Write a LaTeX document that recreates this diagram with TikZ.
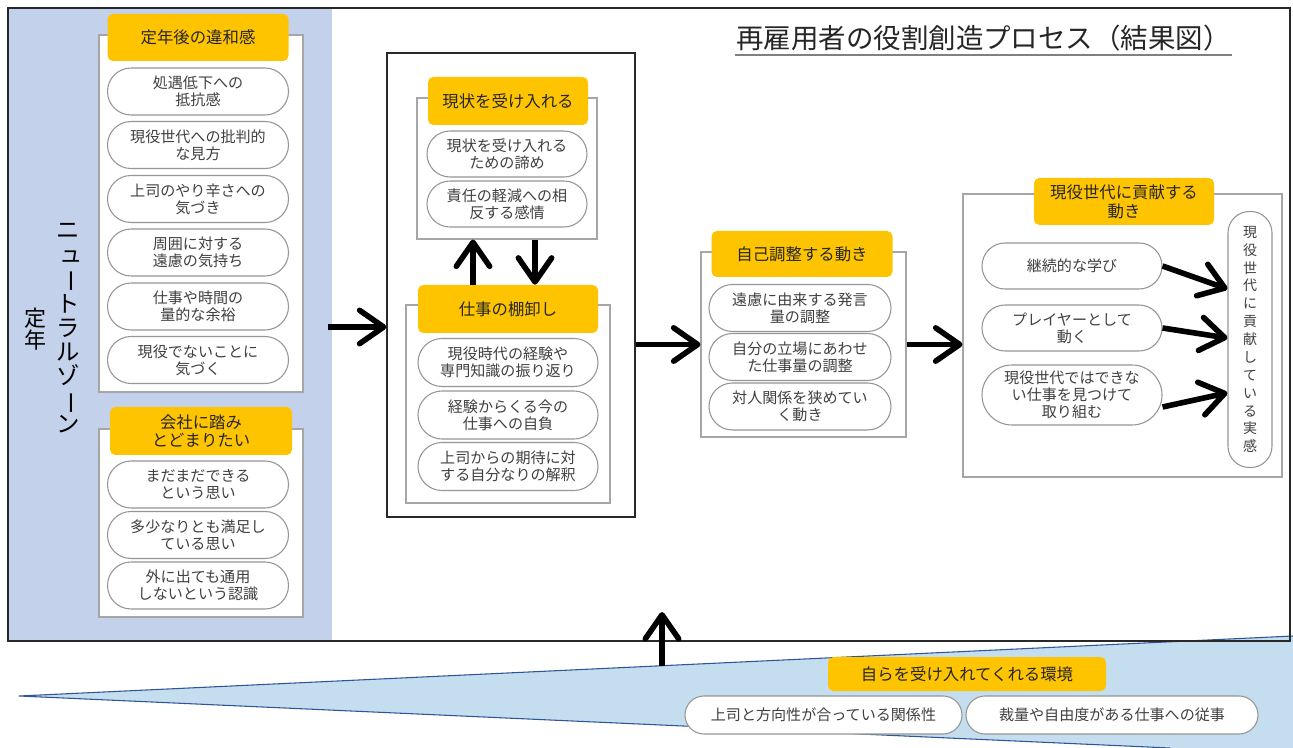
\documentclass[tikz,border=0pt]{standalone}
\usepackage{fontspec}
\usepackage{graphicx}
\setmainfont{Noto Sans CJK JP}
\usetikzlibrary{arrows.meta,shapes.misc,calc}
\definecolor{panelblue}{RGB}{196,209,234}
\definecolor{wedgefill}{RGB}{196,221,239}
\definecolor{wedgeline}{RGB}{47,85,151}
\definecolor{hdryellow}{RGB}{255,196,0}
\definecolor{boxgray}{RGB}{166,166,166}
\definecolor{ovalgray}{RGB}{150,150,150}
\definecolor{txtgray}{RGB}{64,64,64}
\definecolor{hdrtxt}{RGB}{38,38,38}
\definecolor{framecol}{RGB}{40,40,40}
\newcommand{\vbar}{\rotatebox[origin=c]{-90}{ー}}
\begin{document}
\begin{tikzpicture}[x=0.75pt,y=-0.75pt,
  grpbox/.style={draw=boxgray, fill=white, line width=0.8pt, rectangle, inner sep=0pt},
  hdr/.style={fill=hdryellow, rounded corners=4pt, align=center, text=hdrtxt, inner sep=0pt,
    font=\fontsize{12.3}{14}\selectfont},
  oval/.style={rounded rectangle, draw=ovalgray, fill=white, line width=0.8pt, align=center,
    text=txtgray, inner sep=0pt, font=\fontsize{11.3}{12.6}\selectfont},
  bigarrow/.style={line width=4.2pt, -{Straight Barb[round, length=18pt, width=25pt]}},
  sidetxt/.style={align=center, text=black, inner sep=0pt}
]
\useasboundingbox (0,0) rectangle (1293,748);
\fill[white] (0,0) rectangle (1293,748);
% environment wedge
\fill[wedgefill] (19,696) -- (1293,636) -- (1293,748) -- (1170,748) -- cycle;
\draw[wedgeline, line width=0.8pt] (1293,636) -- (19,696) -- (1170,748);
% left zone
\fill[panelblue] (8,8) rectangle (332,641);
\draw[framecol, line width=0.9pt] (8,8) rectangle (1290,641);

% title
\node[anchor=south, inner xsep=1pt, inner ysep=2.5pt, font=\fontsize{20.6}{22}\selectfont, text=hdrtxt] (title) at (983.5,55) {再雇用者の役割創造プロセス（結果図）};
\draw[gray, line width=1.1pt] (title.south west) -- (title.south east);

% side texts
\node[sidetxt, font=\fontsize{17.5}{18}\selectfont] (nz) at (68,328) {ニ\\\hspace*{0.3em}ュ\\\vbar\\ト\\ラ\\ル\\ゾ\\\vbar\\ン};
\node[sidetxt, font=\fontsize{16.5}{17}\selectfont] (tn) at (36,329) {定\\年};

% left group 1
\node[grpbox, minimum width=153pt, minimum height=267.75pt] (bL1) at (201,213.5) {};
\node[hdr, minimum width=135.75pt, minimum height=35.25pt] (hL1) at (198,37.5) {定年後の違和感};
\node[oval, minimum width=135.75pt, minimum height=35.25pt] (oL1a) at (198,91.5) {処遇低下への\\抵抗感};
\node[oval, minimum width=135.75pt, minimum height=35.25pt] (oL1b) at (198,145) {現役世代への批判的\\な見方};
\node[oval, minimum width=135.75pt, minimum height=35.25pt] (oL1c) at (198,199) {上司のやり辛さへの\\気づき};
\node[oval, minimum width=135.75pt, minimum height=35.25pt] (oL1d) at (198,252.5) {周囲に対する\\遠慮の気持ち};
\node[oval, minimum width=135.75pt, minimum height=35.25pt] (oL1e) at (198,306.5) {仕事や時間の\\量的な余裕};
\node[oval, minimum width=135.75pt, minimum height=35.25pt] (oL1f) at (198,360) {現役でないことに\\気づく};

% left group 2
\node[grpbox, minimum width=153pt, minimum height=141pt] (bL2) at (201,523) {};
\node[hdr, minimum width=136.5pt, minimum height=36pt] (hL2) at (201,431) {会社に踏み\\とどまりたい};
\node[oval, minimum width=135.75pt, minimum height=35.25pt] (oL2a) at (198,484.5) {まだまだできる\\という思い};
\node[oval, minimum width=135.75pt, minimum height=35.25pt] (oL2b) at (198,535) {多少なりとも満足し\\ている思い};
\node[oval, minimum width=135.75pt, minimum height=35.25pt] (oL2c) at (198,585.5) {外に出ても通用\\しないという認識};

% middle big box
\node[draw=framecol, fill=white, line width=0.9pt, rectangle, inner sep=0pt, minimum width=186pt, minimum height=348pt] (bM) at (511,285) {};
\node[grpbox, minimum width=135pt, minimum height=105.75pt] (bM1) at (507,168.5) {};
\node[hdr, minimum width=120pt, minimum height=36pt] (hM1) at (508,101) {現状を受け入れる};
\node[oval, minimum width=120pt, minimum height=34.5pt] (oM1a) at (507,154) {現状を受け入れる\\ための諦め};
\node[oval, minimum width=120pt, minimum height=34.5pt] (oM1b) at (507,204) {責任の軽減への相\\反する感情};
\node[grpbox, minimum width=153pt, minimum height=148.5pt] (bM2) at (508,404) {};
\node[hdr, minimum width=135pt, minimum height=36pt] (hM2) at (508,309) {仕事の棚卸し};
\node[oval, minimum width=135pt, minimum height=36pt] (oM2a) at (508,362.5) {現役時代の経験や\\専門知識の振り返り};
\node[oval, minimum width=135pt, minimum height=36pt] (oM2b) at (508,415) {経験からくる今の\\仕事への自負};
\node[oval, minimum width=135pt, minimum height=36pt] (oM2c) at (508,466.5) {上司からの期待に対\\する自分なりの解釈};
\draw[bigarrow] ($(hM2.north)+(-35,0)$) -- ($(bM1.south)+(-34,0)$);
\draw[bigarrow] ($(bM1.south)+(28,0)$) -- ($(hM2.north)+(27,0)$);

% self-adjusting
\node[grpbox, minimum width=153.75pt, minimum height=138.75pt] (bR1) at (803.5,344.5) {};
\node[hdr, minimum width=135.75pt, minimum height=34.5pt] (hR1) at (802,254) {自己調整する動き};
\node[oval, minimum width=136.5pt, minimum height=35.25pt] (oR1a) at (800,308) {遠慮に由来する発言\\量の調整};
\node[oval, minimum width=136.5pt, minimum height=35.25pt] (oR1b) at (800,357) {自分の立場にあわせ\\た仕事量の調整};
\node[oval, minimum width=136.5pt, minimum height=35.25pt] (oR1c) at (800,406.5) {対人関係を狭めてい\\く動き};

% contributing
\node[grpbox, minimum width=239.25pt, minimum height=212.25pt] (bR2) at (1122.5,335.5) {};
\node[hdr, minimum width=135pt, minimum height=35.25pt] (hR2) at (1124,201.5) {現役世代に貢献する\\動き};
\node[oval, minimum width=135pt, minimum height=34.5pt] (oR2a) at (1072,266) {継続的な学び};
\node[oval, minimum width=135pt, minimum height=34.5pt] (oR2b) at (1072,328) {プレイヤーとして\\動く};
\node[oval, minimum width=135pt, minimum height=45pt] (oR2c) at (1072,395) {現役世代ではできな\\い仕事を見つけて\\取り組む};
\node[rectangle, rounded corners=16pt, draw=ovalgray, fill=white, line width=0.8pt, inner sep=0pt,
  minimum width=33pt, minimum height=192pt, align=center, text=txtgray,
  font=\fontsize{10.5}{13.4}\selectfont] (V) at (1250,339.5) {現\\役\\世\\代\\に\\貢\\献\\し\\て\\い\\る\\実\\感};
\draw[bigarrow] (oR2a.east) -- ([yshift=37.9pt]V.west);
\draw[bigarrow] (oR2b.east) -- ([yshift=1.1pt]V.west);
\draw[bigarrow] ([yshift=-9pt]oR2c.east) -- ([yshift=-40pt]V.west);

% main flow arrows
\coordinate (lt) at (328,327);
\draw[bigarrow] (lt) -- (lt -| bM.west);
\draw[bigarrow] (bM.east |- bR1.west) -- (bR1.west);
\draw[bigarrow] (bR1.east) -- (bR1.east -| bR2.west);

% environment
\node[hdr, minimum width=208.5pt, minimum height=25.5pt] (hB) at (967,674) {自らを受け入れてくれる環境};
\node[oval, minimum width=207.75pt, minimum height=28.5pt] (oBa) at (823.5,715) {上司と方向性が合っている関係性};
\node[oval, minimum width=219pt, minimum height=28.5pt] (oBb) at (1112,715) {裁量や自由度がある仕事への従事};
\coordinate (ut) at (662,666);
\coordinate (uh) at (662,612);
\draw[bigarrow] (ut) -- (uh);
\end{tikzpicture}
\end{document}
